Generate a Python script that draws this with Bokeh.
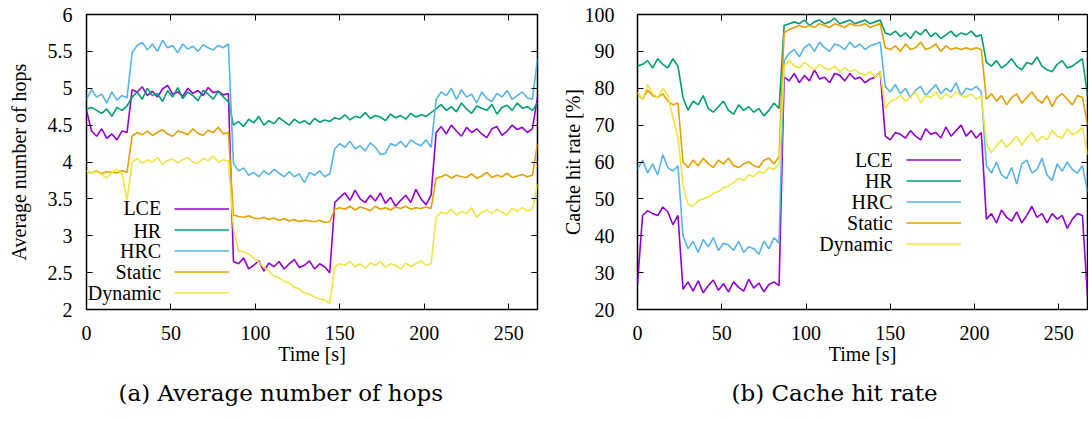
from bokeh.plotting import figure
from bokeh.layouts import row
from bokeh.models import (Range1d, LinearAxis, Legend, LegendItem, Label, Title,
                          FixedTicker, CustomJSTickFormatter)
from bokeh.core.properties import value
from bokeh.embed import file_html
from bokeh.resources import INLINE

# ---------------- data ----------------
time_s = list(range(0, 268, 3))  # 0,3,...,267 s

series_names = ["LCE", "HR", "HRC", "Static", "Dynamic"]
series_colors = ["#9400d3", "#009e73", "#56b4e9", "#e69f00", "#f0e442"]

# (a) average number of hops
hops_lce = [4.70, 4.42, 4.35, 4.45, 4.32, 4.38, 4.30, 4.42, 4.40,
            4.98, 4.95, 5.02, 4.90, 4.96, 4.88, 4.99, 5.04, 4.92, 4.95, 4.89, 5.00, 4.93, 4.97, 4.90, 5.01, 4.94, 4.96, 4.91, 4.93,
            2.65, 2.62, 2.70, 2.55, 2.60, 2.66, 2.52, 2.63, 2.58, 2.65, 2.55, 2.62, 2.68, 2.57, 2.60, 2.66, 2.55, 2.62, 2.58, 2.50,
            3.45, 3.52, 3.58, 3.48, 3.62, 3.50, 3.45, 3.55, 3.47, 3.58, 3.44, 3.52, 3.40, 3.48, 3.55, 3.45, 3.63, 3.50, 3.42, 3.55,
            4.40, 4.48, 4.38, 4.50, 4.42, 4.35, 4.47, 4.40, 4.45, 4.38, 4.33, 4.45, 4.48, 4.36, 4.42, 4.50, 4.44, 4.47, 4.40, 4.45, 4.88]
hops_hr = [4.72, 4.74, 4.70, 4.66, 4.72, 4.62, 4.74, 4.70, 4.76,
           4.88, 4.95, 4.85, 5.00, 4.90, 4.93, 4.82, 4.97, 4.88, 5.01, 4.86, 4.95, 4.90, 4.83, 4.97, 4.92, 4.85, 4.96, 4.88, 4.82,
           4.50, 4.55, 4.48, 4.58, 4.53, 4.62, 4.50, 4.56, 4.52, 4.60, 4.55, 4.50, 4.58, 4.53, 4.56, 4.51, 4.59, 4.54, 4.57, 4.55,
           4.60, 4.58, 4.64, 4.57, 4.62, 4.60, 4.67, 4.59, 4.63, 4.61, 4.56, 4.65, 4.60, 4.63, 4.58, 4.66, 4.61, 4.64, 4.62, 4.67,
           4.72, 4.78, 4.70, 4.75, 4.68, 4.80, 4.72, 4.66, 4.76, 4.73, 4.70, 4.78, 4.65, 4.74, 4.77, 4.70, 4.80, 4.73, 4.75, 4.70, 4.80]
hops_hrc = [4.85, 4.98, 4.88, 4.92, 4.80, 4.95, 4.84, 4.90, 4.87,
            5.48, 5.58, 5.62, 5.52, 5.60, 5.50, 5.65, 5.55, 5.58, 5.48, 5.60, 5.53, 5.57, 5.50, 5.59, 5.55, 5.52, 5.58, 5.55, 5.60,
            3.98, 3.88, 3.92, 3.82, 3.86, 3.80, 3.88, 3.83, 3.90, 3.85, 3.80, 3.87, 3.80, 3.84, 3.72, 3.86, 3.82, 3.88, 3.80, 3.84,
            4.18, 4.25, 4.20, 4.28, 4.18, 4.22, 4.15, 4.26, 4.20, 4.10, 4.12, 4.25, 4.22, 4.28, 4.20, 4.30, 4.25, 4.22, 4.30, 4.20,
            4.85, 4.95, 4.90, 5.00, 4.85, 4.98, 4.88, 4.92, 4.80, 4.95, 4.86, 4.82, 4.93, 4.88, 4.97, 4.85, 4.90, 4.95, 4.87, 4.85, 5.40]
hops_static = [3.87, 3.85, 3.88, 3.84, 3.87, 3.86, 3.85, 3.88, 3.86,
               4.35, 4.40, 4.37, 4.42, 4.36, 4.40, 4.44, 4.38, 4.35, 4.42, 4.40, 4.37, 4.45, 4.39, 4.36, 4.43, 4.40, 4.47, 4.38, 4.40,
               3.28, 3.26, 3.25, 3.27, 3.24, 3.23, 3.25, 3.22, 3.24, 3.21, 3.23, 3.20, 3.22, 3.19, 3.21, 3.20, 3.19, 3.21, 3.18, 3.19,
               3.36, 3.38, 3.36, 3.40, 3.35, 3.39, 3.37, 3.34, 3.40, 3.36, 3.38, 3.35, 3.39, 3.37, 3.40, 3.36, 3.38, 3.37, 3.39, 3.37,
               3.78, 3.80, 3.83, 3.78, 3.82, 3.80, 3.79, 3.84, 3.78, 3.81, 3.86, 3.79, 3.82, 3.80, 3.85, 3.79, 3.81, 3.83, 3.80, 3.82, 4.25]
hops_dynamic = [3.88, 3.85, 3.87, 3.83, 3.78, 3.86, 3.90, 3.85, 3.48,
                4.00, 4.05, 3.98, 4.03, 4.00, 4.06, 3.97, 4.02, 4.04, 3.99, 4.03, 4.06, 4.00, 3.98, 4.05, 4.02, 4.08, 4.00, 4.03, 4.01,
                3.10, 2.80, 2.78, 2.75, 2.70, 2.64, 2.57, 2.52, 2.45, 2.43, 2.38, 2.36, 2.30, 2.28, 2.22, 2.21, 2.17, 2.14, 2.13, 2.08,
                2.58, 2.62, 2.60, 2.65, 2.58, 2.62, 2.56, 2.63, 2.60, 2.65, 2.57, 2.62, 2.60, 2.55, 2.63, 2.58, 2.62, 2.66, 2.60, 2.62,
                3.25, 3.32, 3.30, 3.36, 3.28, 3.33, 3.30, 3.38, 3.25, 3.32, 3.35, 3.30, 3.36, 3.32, 3.28, 3.37, 3.33, 3.38, 3.34, 3.36, 3.70]

# (b) cache hit rate [%]
hit_lce = [27.0, 45.5, 46.8, 46.0, 45.5, 47.8, 46.5, 43.0, 45.5,
           25.5, 27.5, 25.0, 27.8, 24.5, 26.5, 28.0, 25.2, 27.0, 24.8, 27.5, 26.0, 25.0, 28.2, 25.8, 27.2, 24.8, 26.8, 27.5, 26.5,
           83.0, 82.0, 84.0, 81.5, 83.5, 82.0, 85.0, 82.5, 83.0, 81.5, 84.0, 83.5, 82.0, 84.0, 82.5, 83.0, 81.5, 82.5, 83.0, 84.5,
           67.0, 66.0, 68.0, 67.5, 66.5, 68.5, 67.0, 66.0, 69.0, 67.5, 68.0, 66.5, 69.5, 67.0, 68.5, 70.0, 67.0, 68.5, 66.5, 68.0,
           44.5, 46.0, 43.5, 47.0, 45.0, 44.0, 46.5, 43.5, 45.5, 48.0, 45.0, 46.0, 43.5, 46.0, 44.5, 45.5, 42.0, 44.5, 46.0, 45.5, 23.5]
hit_hr = [86.0, 86.5, 87.5, 85.5, 88.0, 86.5, 85.5, 88.0, 86.0,
          77.5, 74.0, 76.5, 75.5, 78.0, 74.5, 73.5, 75.0, 76.5, 74.0, 73.0, 75.5, 74.0, 75.0, 73.5, 74.5, 72.5, 74.0, 76.0, 74.5,
          97.0, 97.5, 98.0, 97.5, 98.5, 97.0, 98.0, 98.5, 97.5, 98.0, 99.0, 97.5, 98.0, 98.5, 97.5, 98.0, 98.5, 97.5, 98.0, 98.5,
          95.0, 94.5, 95.5, 94.0, 95.0, 93.5, 95.5, 94.5, 96.0, 94.0, 95.0, 93.5, 94.5, 95.5, 94.0, 95.0, 94.5, 95.5, 94.0, 94.5,
          87.0, 86.0, 87.5, 85.5, 86.5, 88.0, 86.0, 85.0, 87.0, 86.5, 88.5, 86.0, 85.0, 84.5, 86.5, 87.5, 85.5, 86.0, 87.0, 88.0, 78.0]
hit_hrc = [58.0, 60.5, 57.0, 59.5, 56.5, 62.0, 58.5, 57.5, 59.0,
           40.0, 36.5, 38.5, 35.5, 39.0, 37.0, 39.5, 36.0, 38.0, 37.5, 36.0, 38.5, 35.5, 37.0, 36.5, 35.0, 38.5, 36.5, 39.5, 38.0,
           87.5, 89.5, 90.5, 88.5, 91.0, 92.0, 90.0, 92.5, 91.0, 90.0, 92.0, 91.5, 90.5, 92.5, 91.0, 92.0, 90.5, 91.5, 92.0, 92.5,
           80.5, 79.0, 81.0, 78.5, 80.0, 77.5, 79.5, 80.5, 78.0, 79.5, 81.0, 78.5, 80.0, 79.0, 81.5, 78.0, 80.0, 79.5, 80.5, 79.0,
           59.0, 57.0, 60.0, 56.5, 55.5, 58.5, 54.0, 59.5, 60.5, 57.0, 58.0, 61.0, 56.5, 55.0, 59.5, 57.5, 60.0, 58.0, 57.0, 59.0, 52.0]
hit_static = [78.5, 77.0, 79.5, 78.0, 77.5, 78.5, 76.5, 75.5, 76.0,
              60.0, 58.5, 60.5, 59.0, 61.0, 59.5, 58.5, 60.5, 59.5, 61.0, 59.0, 58.5, 59.5, 60.0, 59.0, 58.5, 60.5, 61.0, 59.5, 61.5,
              95.0, 96.0, 96.5, 97.0, 96.5, 97.0, 96.5, 97.5, 97.0, 96.5, 97.5, 97.0, 96.5, 97.5, 97.0, 97.0, 97.5, 96.5, 97.0, 97.5,
              91.0, 90.5, 91.5, 90.0, 92.0, 90.5, 91.0, 92.5, 90.5, 91.0, 92.0, 90.0, 91.5, 90.5, 91.0, 90.5, 91.0, 90.5, 91.0, 90.5,
              77.0, 78.5, 76.5, 78.0, 75.5, 77.5, 78.5, 76.0, 77.5, 79.0, 77.0, 76.0, 78.0, 75.0, 77.5, 78.5, 77.0, 75.5, 78.0, 77.5, 70.0]
hit_dynamic = [79.0, 77.0, 81.0, 78.5, 77.5, 80.0, 78.0, 72.0, 66.5,
               54.0, 48.5, 48.0, 49.5, 50.0, 50.5, 51.5, 52.0, 53.0, 53.5, 54.5, 55.5, 55.0, 56.5, 56.0, 57.5, 57.0, 58.5, 58.0, 59.5,
               86.0, 87.5, 86.0, 85.5, 87.0, 86.0, 85.0, 86.5, 85.5, 85.0, 86.0, 84.5, 85.5, 84.5, 85.0, 84.0, 83.5, 84.5, 83.0, 84.5,
               74.5, 76.5, 77.0, 78.0, 76.5, 77.5, 79.0, 76.0, 78.0, 77.5, 79.0, 77.0, 78.5, 77.5, 79.0, 78.0, 77.5, 78.5, 77.0, 78.0,
               65.0, 62.5, 64.5, 66.0, 64.0, 65.5, 67.0, 64.5, 66.5, 68.0, 65.5, 67.0, 66.0, 68.5, 67.0, 66.5, 69.0, 67.5, 68.0, 69.5, 62.0]

x_ticks = [0, 50, 100, 150, 200, 250]
hops_ticks = [2, 2.5, 3, 3.5, 4, 4.5, 5, 5.5, 6]
hit_ticks = [20, 30, 40, 50, 60, 70, 80, 90, 100]

# ---------------- styling ----------------
SERIF = "Liberation Serif"
CAP_FONT = "DejaVu Serif"
FS = "20px"

plain = CustomJSTickFormatter(code="return tick.toString()")
blank = CustomJSTickFormatter(code="return ''")


def style_axis(ax, ticks, labels=True):
    ax.ticker = FixedTicker(ticks=ticks)
    ax.axis_line_color = None
    ax.major_tick_in = 6
    ax.major_tick_out = 0
    ax.minor_tick_line_color = None
    ax.major_tick_line_color = "black"
    ax.major_tick_line_width = 1
    if labels:
        ax.formatter = plain
        ax.major_label_text_font = SERIF
        ax.major_label_text_font_size = FS
        ax.major_label_text_color = "black"
        ax.axis_label_text_font = SERIF
        ax.axis_label_text_font_size = FS
        ax.axis_label_text_font_style = "normal"
        ax.axis_label_text_color = "black"
    else:
        ax.formatter = blank
        ax.major_label_text_font_size = "0px"
        ax.major_label_standoff = 0


def make_panel(ys, y_rng, y_ticks, ylabel, caption, width, bl, br,
               lab_standoff, ylab_standoff, legend_px, legend_text_x, legend_text_y,
               cap_offset):
    p = figure(width=width, height=420, x_range=Range1d(0, 267), y_range=Range1d(*y_rng),
               output_backend="svg", toolbar_location=None,
               min_border_left=bl, min_border_right=br, min_border_top=14, min_border_bottom=111)
    p.grid.visible = False
    p.outline_line_color = "black"
    p.outline_line_width = 1.5
    p.background_fill_color = "white"
    p.border_fill_color = "white"

    style_axis(p.xaxis[0], x_ticks)
    p.xaxis[0].axis_label = "Time [s]"
    p.xaxis[0].major_label_standoff = 16
    p.xaxis[0].axis_label_standoff = 0
    style_axis(p.yaxis[0], y_ticks)
    p.yaxis[0].axis_label = ylabel
    p.yaxis[0].major_label_standoff = lab_standoff
    p.yaxis[0].axis_label_standoff = ylab_standoff

    ra = LinearAxis()
    style_axis(ra, y_ticks, labels=False)
    p.add_layout(ra, "right")
    ta = LinearAxis()
    style_axis(ta, x_ticks, labels=False)
    p.add_layout(ta, "above")

    rends = []
    for y, c in zip(ys, series_colors):
        r = p.line(time_s, y, line_color=c, line_width=1.6)
        rends.append(r)

    leg = Legend(items=[LegendItem(label=value(""), renderers=[r]) for r in rends],
                 location=legend_px, glyph_width=55, glyph_height=21, label_height=21,
                 label_width=0, label_standoff=0, spacing=0, padding=0, margin=0,
                 border_line_color=None, background_fill_alpha=0)
    p.add_layout(leg)

    for name, ty in zip(series_names, legend_text_y):
        p.add_layout(Label(x=legend_text_x, y=ty, text=name, text_align="right",
                           text_baseline="middle", text_font=SERIF, text_font_size=FS,
                           text_color="black"))

    t = Title(text=caption, align="left", offset=cap_offset, text_font=CAP_FONT,
              text_font_size="23px", text_font_style="normal", text_color="black",
              standoff=20)
    p.add_layout(t, "below")
    return p


p1 = make_panel([hops_lce, hops_hr, hops_hrc, hops_static, hops_dynamic], (2, 6), hops_ticks,
                "Average number of hops", "(a) Average number of hops",
                width=550, bl=86, br=13, lab_standoff=14, ylab_standoff=15,
                legend_px=(88, 6), legend_text_x=44.2,
                legend_text_y=[3.370, 3.071, 2.790, 2.506, 2.221], cap_offset=32)
p2 = make_panel([hit_lce, hit_hr, hit_hrc, hit_static, hit_dynamic], (20, 100), hit_ticks,
                "Cache hit rate [%]", "(b) Cache hit rate",
                width=538, bl=87, br=1, lab_standoff=23, ylab_standoff=-2,
                legend_px=(269, 55), legend_text_x=151.4,
                legend_text_y=[60.41, 54.79, 49.10, 43.51, 37.82], cap_offset=94)

layout = row(p1, p2)
open("out.html", "w").write(file_html(layout, INLINE))
